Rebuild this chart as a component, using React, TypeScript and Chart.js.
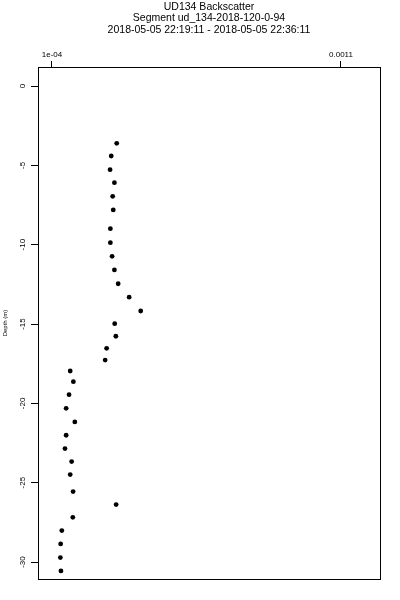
import React, { useEffect, useRef } from "react";
import { Chart, registerables } from "chart.js";

Chart.register(...registerables);

const titleLines = [
  "UD134 Backscatter",
  "Segment ud_134-2018-120-0-94",
  "2018-05-05 22:19:11 - 2018-05-05 22:36:11",
];
const yAxisTitle = "Depth (m)";

const depth = [
  -3.61, -4.41, -5.27, -6.09, -6.95, -7.81, -8.99, -9.87, -10.73, -11.59, -12.46,
  -13.31, -14.18, -14.98, -15.77, -16.53, -17.27, -17.96, -18.63, -19.45, -20.31,
  -21.17, -22.01, -22.85, -23.67, -24.49, -25.56, -26.38, -27.18, -28.02, -28.86,
  -29.72, -30.56,
];
const backscatter = [
  3.24e-4, 3.05e-4, 3.01e-4, 3.16e-4, 3.1e-4, 3.12e-4, 3.02e-4, 3.02e-4, 3.08e-4, 3.16e-4, 3.29e-4,
  3.67e-4, 4.07e-4, 3.17e-4, 3.21e-4, 2.89e-4, 2.84e-4, 1.63e-4, 1.74e-4, 1.59e-4, 1.49e-4,
  1.79e-4, 1.49e-4, 1.45e-4, 1.68e-4, 1.63e-4, 1.73e-4, 3.22e-4, 1.72e-4, 1.34e-4, 1.3e-4,
  1.29e-4, 1.31e-4,
];

const xTickValues = [0.0001, 0.0011];
const xTickLabels = ["1e-04", "0.0011"];
const yTickValues = [0, -5, -10, -15, -20, -25, -30];

const X_MIN = 0.0000516;
const X_MAX = 0.001235;
const Y_MIN = -31.07;
const Y_MAX = 1.2;

const FONT = "'Liberation Sans', Arial, Helvetica, sans-serif";

const framePlugin = {
  id: "frameAndTitle",
  afterDraw(chart: any) {
    const { ctx, chartArea: a } = chart;
    ctx.save();
    ctx.strokeStyle = "#000";
    ctx.lineWidth = 1;
    ctx.strokeRect(
      Math.round(a.left) + 0.5,
      Math.round(a.top) + 0.5,
      Math.round(a.right - a.left),
      Math.round(a.bottom - a.top)
    );
    ctx.fillStyle = "#000";
    ctx.font = `10.5px ${FONT}`;
    ctx.textAlign = "center";
    ctx.textBaseline = "middle";
    const cx = (a.left + a.right) / 2;
    const ys = [7, 18.5, 30];
    titleLines.forEach((t, i) => ctx.fillText(t, cx, ys[i]));
    ctx.restore();
  },
};

export default function App() {
  const ref = useRef<HTMLCanvasElement | null>(null);

  useEffect(() => {
    if (!ref.current) return;
    Chart.defaults.font.family = FONT;
    const chart = new Chart(ref.current, {
      type: "scatter",
      data: {
        datasets: [
          {
            data: depth.map((d, i) => ({ x: backscatter[i], y: d })),
            pointRadius: 2.4,
            pointHoverRadius: 2.4,
            backgroundColor: "#000",
            borderWidth: 0,
          },
        ],
      },
      options: {
        animation: false,
        responsive: false,
        devicePixelRatio: 1,
        layout: { padding: { top: 0, left: 0, right: 20, bottom: 21 } },
        plugins: {
          legend: { display: false },
          tooltip: { enabled: false },
          title: { display: false },
        },
        scales: {
          x: {
            type: "linear",
            position: "top",
            min: X_MIN,
            max: X_MAX,
            afterBuildTicks: (s: any) => {
              s.ticks = xTickValues.map((v) => ({ value: v }));
            },
            afterFit: (s: any) => {
              s.height = 67;
            },
            ticks: {
              callback: (_v: any, i: number) => xTickLabels[i],
              font: { size: 8 },
              color: "#000",
              padding: 1,
              maxRotation: 0,
              autoSkip: false,
            },
            grid: {
              drawOnChartArea: false,
              drawTicks: true,
              tickLength: 6,
              color: "#000",
            },
            border: { display: true, color: "#000" },
          },
          y: {
            type: "linear",
            min: Y_MIN,
            max: Y_MAX,
            afterBuildTicks: (s: any) => {
              s.ticks = yTickValues.map((v) => ({ value: v }));
            },
            afterFit: (s: any) => {
              s.width = 38;
            },
            ticks: {
              callback: (v: any) => String(v),
              font: { size: 8 },
              color: "#000",
              minRotation: 90,
              maxRotation: 90,
              crossAlign: "center",
              padding: 2.5,
              autoSkip: false,
            },
            grid: {
              drawOnChartArea: false,
              drawTicks: true,
              tickLength: 7,
              color: "#000",
            },
            border: { display: true, color: "#000" },
            title: {
              display: true,
              text: yAxisTitle,
              font: { size: 6 },
              color: "#000",
              padding: { top: 2, bottom: 0 },
            },
          },
        },
      } as any,
      plugins: [framePlugin],
    });
    return () => chart.destroy();
  }, []);

  return (
    <div style={{ position: "absolute", left: 0, top: 0, width: 400, height: 600, background: "#fff" }}>
      <canvas ref={ref} width={400} height={600} style={{ display: "block" }} />
    </div>
  );
}
